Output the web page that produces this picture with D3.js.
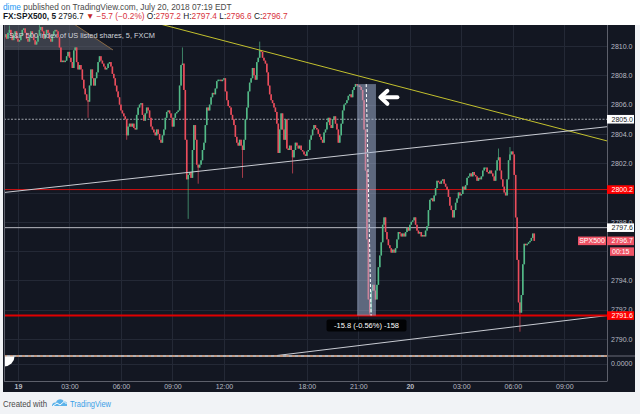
<!DOCTYPE html>
<html><head><meta charset="utf-8">
<script src="https://cdn.jsdelivr.net/npm/d3@7"></script>
<style>body{margin:0;background:#fff;overflow:hidden}text{font-family:"Liberation Sans",Arial,sans-serif}</style>
</head><body><svg id="c" width="640" height="414"></svg>
<script>
// ---------- DATA ----------
const firstIndex = -9;
const firstOpen = 2810.6;
const closes = [
2810.8,2810.5,2810.9,2811.1,2810.7,2810.4,2810.8,2811.0,2810.5,2810.3,
2810.4,2810.7,2811.1,2811.2,2810.9,2810.5,2810.3,2810.6,2811.0,2810.8,
2810.4,2810.1,2810.3,2810.7,2811.1,2811.3,2811.0,2810.5,2810.8,2811.1,
2810.9,2810.5,2810.3,2810.7,2811.0,2811.1,2811.0,2810.6,2809.9,2808.9,
2809.0,2808.9,2809.0,2809.3,2809.6,2809.2,2808.9,2808.5,2809.7,2809.9,
2808.9,2808.4,2808.7,2808.4,2807.7,2807.1,2806.7,2806.3,2806.2,2807.3,
2808.4,2807.8,2807.3,2807.8,2808.2,2808.9,2809.3,2809.0,2808.8,2808.6,
2808.4,2808.5,2808.8,2808.9,2808.6,2808.1,2807.8,2807.3,2806.9,2806.5,
2806.0,2805.6,2805.4,2805.2,2805.0,2803.9,2804.5,2804.7,2804.5,2804.7,
2804.4,2804.3,2805.3,2805.8,2806.0,2806.1,2805.3,2804.9,2805.4,2805.8,
2805.6,2805.1,2804.5,2804.3,2804.1,2803.9,2804.3,2804.0,2803.6,2803.4,
2803.9,2804.3,2805.1,2805.5,2805.6,2805.4,2805.1,2804.5,2805.1,2805.4,
2805.5,2805.6,2807.3,2808.7,2808.8,2807.0,2803.6,2800.9,2801.2,2801.4,
2801.0,2802.9,2804.6,2803.6,2801.9,2801.7,2801.9,2802.2,2802.9,2803.4,
2804.6,2805.8,2805.6,2806.0,2806.5,2806.8,2806.7,2807.1,2807.6,2807.7,
2807.7,2807.6,2807.7,2807.8,2806.9,2806.3,2805.9,2805.8,2805.3,2805.0,
2804.6,2803.8,2803.4,2803.2,2803.6,2803.2,2802.9,2803.6,2805.0,2805.8,
2806.9,2807.5,2807.8,2808.5,2808.0,2807.7,2808.9,2809.2,2809.7,2809.6,
2809.2,2809.0,2808.8,2808.2,2807.3,2806.7,2806.3,2806.1,2805.8,2805.5,
2804.7,2802.7,2804.3,2805.4,2804.3,2803.6,2805.0,2803.0,2802.9,2803.2,
2802.9,2802.4,2802.9,2803.4,2803.2,2803.0,2803.2,2802.9,2802.8,2802.6,
2802.5,2802.8,2802.9,2803.6,2803.9,2804.3,2804.6,2804.4,2804.3,2804.0,
2803.8,2803.6,2803.4,2804.1,2804.3,2804.8,2805.1,2804.6,2804.4,2805.0,
2805.2,2804.7,2804.3,2803.4,2803.9,2804.7,2805.6,2806.0,2806.1,2806.3,
2806.6,2806.7,2806.5,2807.0,2807.2,2807.4,2807.3,2807.3,2807.2,2807.0,
2806.3,2804.3,2801.5,2796.8,2792.7,2791.8,2793.3,2793.7,2793.3,2792.7,
2793.7,2794.9,2795.7,2796.6,2797.8,2798.3,2797.3,2796.8,2796.4,2796.2,
2795.9,2796.1,2795.9,2796.2,2796.8,2797.3,2797.2,2797.0,2797.2,2797.0,
2797.3,2797.6,2797.4,2797.8,2798.0,2798.1,2798.3,2797.8,2797.4,2797.2,
2797.3,2797.0,2797.1,2797.0,2797.4,2797.7,2798.8,2799.5,2799.6,2799.4,
2799.8,2800.3,2800.8,2800.7,2800.6,2800.8,2800.9,2800.6,2800.4,2800.2,
2799.7,2799.1,2798.8,2798.3,2798.8,2799.3,2799.6,2800.0,2799.8,2799.9,
2800.4,2800.2,2800.5,2801.0,2801.1,2801.3,2801.1,2801.4,2801.2,2801.1,
2800.8,2801.0,2800.9,2801.1,2801.5,2801.7,2801.7,2801.4,2801.3,2801.5,
2801.3,2801.1,2800.8,2801.5,2802.2,2802.4,2801.5,2800.9,2800.4,2800.0,
2799.8,2800.9,2802.2,2802.6,2802.8,2802.6,2801.2,2798.3,2795.4,2792.5,
2791.8,2793.0,2795.1,2796.5,2796.4,2796.5,2796.6,2796.7,2796.9,2797.2,2796.7
];
// [bar index, wick high, wick low]
const wicks = [
[-6,2811.4,null],[15,2811.5,null],[49,null,2805.1],[76,null,2803.6],[115,2809.9,null],
[119,null,2798.2],[126,null,2800.6],[157,null,2801.0],[169,2810.3,null],[192,null,2801.3],
[246,null,2791.6],[336,2803.0,null],[344,2803.1,null],[351,null,2790.5]
];
const timeTicks  = [0,36,72,108,144,202,238,274,310,346,382];
const timeLabels = ["19","03:00","06:00","09:00","12:00","18:00","21:00","20","03:00","06:00","09:00"];
const dayLabels  = ["19","20"];
const priceTicks = [2790,2792,2794,2796,2798,2800,2802,2804,2806,2808,2810];
const dottedLevel = 2805.0;
const greyLevel   = 2797.6;
const redLevels   = [2800.2, 2791.6];
const lastPrice   = 2796.7;
const countdown   = "00:15";
const ohlc        = [2797.2, 2797.4, 2796.6, 2796.7];
const change      = [-5.7, -0.2];
const lowerPaneValue = 0;
// trend lines: [[bar index, price],[bar index, price]]
const trendYellow = [[115.4,2811.09],[411.9,2803.52]];
const trendUpper  = [[-9.8,2800.0],[411.9,2804.49]];
const trendLower  = [[323,2790.55],[411.9,2791.6]];
// price range tool
const rangeBars   = [237.1, 250.3];
const rangePrices = [2807.4, 2791.6];
const rangeLine   = [243.5, 246.9];
const arrowAt     = [252, 2806.5];
const shadeBand   = [[-9.8,2811.45],[39.9,2811.45],[66.4,2809.73],[-9.8,2809.73]];

// ---------- LAYOUT ----------
const svg = d3.select("#c");
const L=4, R=607, T=25, PB=355.5, LB=381.5;
svg.append("rect").attr("width",640).attr("height",414).attr("fill","#f1f3f6");
svg.append("rect").attr("width",640).attr("height",25).attr("fill","#ffffff");
svg.append("rect").attr("x",3).attr("y",25).attr("width",632).attr("height",367).attr("fill","#131722");

const x = d3.scaleLinear().domain([0,382]).range([18,564.3]);
const y = d3.scaleLinear().domain([2790,2810]).range([339,46]);
const y2 = d3.scaleLinear().domain([0,1]).range([363.5,340]);

svg.append("clipPath").attr("id","pane").append("rect")
  .attr("x",L).attr("y",T).attr("width",R-L).attr("height",PB-T);

// grid
const grid = svg.append("g").attr("stroke","#242936").attr("stroke-width",1);
grid.selectAll("line.h").data(priceTicks).join("line")
  .attr("x1",L).attr("x2",R).attr("y1",d=>Math.round(y(d))+0.5).attr("y2",d=>Math.round(y(d))+0.5);
grid.selectAll("line.v").data(timeTicks).join("line")
  .attr("x1",d=>Math.round(x(d))+0.5).attr("x2",d=>Math.round(x(d))+0.5).attr("y1",T).attr("y2",LB);
grid.append("line").attr("x1",L).attr("x2",R).attr("y1",Math.round(y2(lowerPaneValue))+0.5).attr("y2",Math.round(y2(lowerPaneValue))+0.5);

const pane = svg.append("g").attr("clip-path","url(#pane)");

// shaded band near legend
pane.append("path")
  .attr("d", d3.line().x(d=>x(d[0])).y(d=>y(d[1]))(shadeBand)+"Z")
  .attr("fill","#5d606b").attr("fill-opacity",0.55);
pane.append("line")
  .attr("x1",x(shadeBand[1][0])).attr("y1",y(shadeBand[1][1]))
  .attr("x2",x(shadeBand[2][0])).attr("y2",y(shadeBand[2][1]))
  .attr("stroke","#8a6a45").attr("stroke-width",1);

// horizontal levels
pane.append("line").attr("x1",L).attr("x2",R).attr("y1",y(dottedLevel)).attr("y2",y(dottedLevel))
  .attr("stroke","#9ea2ab").attr("stroke-width",1).attr("stroke-dasharray","2,1.5");
pane.append("line").attr("x1",L).attr("x2",R).attr("y1",y(greyLevel)).attr("y2",y(greyLevel))
  .attr("stroke","#b8bbc2").attr("stroke-width",1);
pane.append("line").attr("x1",L).attr("x2",R).attr("y1",y(redLevels[0])).attr("y2",y(redLevels[0]))
  .attr("stroke","#d01010").attr("stroke-width",1);

// trend lines (extended, clipped)
function ext(p){const s=(p[1][1]-p[0][1])/(p[1][0]-p[0][0]);
  return [[-15,p[0][1]+s*(-15-p[0][0])],[420,p[0][1]+s*(420-p[0][0])]];}
function tl(p,col,w){const e=ext(p);pane.append("line").attr("x1",x(e[0][0])).attr("y1",y(e[0][1]))
  .attr("x2",x(e[1][0])).attr("y2",y(e[1][1])).attr("stroke",col).attr("stroke-width",w);}

// candles
const bars = closes.map((c,k)=>{
  const i = firstIndex+k; const o = k===0?firstOpen:closes[k-1];
  let hi=Math.max(o,c), lo=Math.min(o,c);
  const w = wicks.find(v=>v[0]===i);
  if(w){ if(w[1]!=null) hi=Math.max(hi,w[1]); if(w[2]!=null) lo=Math.min(lo,w[2]); }
  return {i,o,c,hi,lo};
});
const up="#53b987", dn="#eb4d5c";
const cg = pane.append("g");
cg.selectAll("line").data(bars).join("line")
  .attr("x1",d=>x(d.i)).attr("x2",d=>x(d.i)).attr("y1",d=>y(d.hi)).attr("y2",d=>y(d.lo))
  .attr("stroke",d=>d.c>=d.o?up:dn).attr("stroke-width",0.9).attr("stroke-opacity",0.75);
cg.selectAll("rect").data(bars).join("rect")
  .attr("x",d=>x(d.i)-0.8).attr("width",1.6)
  .attr("y",d=>y(Math.max(d.o,d.c)))
  .attr("height",d=>Math.max(1,Math.abs(y(d.o)-y(d.c))))
  .attr("fill",d=>d.c>=d.o?up:dn);

tl(trendYellow,"#c3c12e",1);
tl(trendUpper,"#c9ccd3",1);
tl(trendLower,"#c9ccd3",1);
pane.append("line").attr("x1",L).attr("x2",R).attr("y1",y(redLevels[1])).attr("y2",y(redLevels[1]))
  .attr("stroke","#e00000").attr("stroke-width",2);

// price range tool
pane.append("rect").attr("x",x(rangeBars[0])).attr("width",x(rangeBars[1])-x(rangeBars[0]))
  .attr("y",y(rangePrices[0])).attr("height",y(rangePrices[1])-y(rangePrices[0]))
  .attr("fill","#a9bad9").attr("fill-opacity",0.5);
pane.append("line").attr("x1",x(rangeLine[0])).attr("y1",y(rangePrices[0]))
  .attr("x2",x(rangeLine[1])).attr("y2",y(rangePrices[1]))
  .attr("stroke","#ffffff").attr("stroke-width",1).attr("stroke-dasharray","3,2");
const diff = rangePrices[1]-rangePrices[0];
const fmt = f=>v=>d3.format(f)(v).replace("\u2212","-");
const rtxt = fmt(".1f")(diff)+" ("+fmt(".2f")(diff/rangePrices[0]*100)+"%) "+fmt("d")(Math.round(diff*10));
const rcx = (x(rangeBars[0])+x(rangeBars[1]))/2;
svg.append("rect").attr("x",rcx-40).attr("y",y(rangePrices[1])+4).attr("width",80).attr("height",12)
  .attr("rx",2).attr("fill","#000000").attr("fill-opacity",0.85);
svg.append("text").attr("x",rcx).attr("y",y(rangePrices[1])+12.5).attr("text-anchor","middle")
  .attr("font-size",7.5).attr("fill","#ffffff").text(rtxt);

// arrow
const ax = x(arrowAt[0]), ay = y(arrowAt[1]);
svg.append("path").attr("d",`M${ax+9},${ay-6.5} L${ax+2},${ay} L${ax+9},${ay+6.5}`)
  .attr("fill","none").attr("stroke","#fff").attr("stroke-width",4).attr("stroke-linecap","round").attr("stroke-linejoin","round");
svg.append("line").attr("x1",ax+3).attr("x2",ax+19).attr("y1",ay).attr("y2",ay)
  .attr("stroke","#fff").attr("stroke-width",4).attr("stroke-linecap","round");

// pane separators / borders
svg.append("line").attr("x1",L).attr("x2",635).attr("y1",356).attr("y2",356).attr("stroke","#6a6d78");
svg.append("line").attr("x1",L).attr("x2",R).attr("y1",356).attr("y2",356).attr("stroke","#d0d3d9").attr("stroke-width",1.5);
svg.append("line").attr("x1",L).attr("x2",R).attr("y1",356).attr("y2",356).attr("stroke","#d9824a").attr("stroke-width",1.2).attr("stroke-dasharray","3,3");
svg.append("path").attr("d","M4,356.5 L14.5,356.5 A10.5,10 0 0 1 4,366.5 Z").attr("fill","#ffffff");
svg.append("line").attr("x1",4.5).attr("x2",4.5).attr("y1",T).attr("y2",LB).attr("stroke","#5d606b");
svg.append("line").attr("x1",R+0.5).attr("x2",R+0.5).attr("y1",T).attr("y2",LB).attr("stroke","#5d606b");
svg.append("line").attr("x1",L).attr("x2",R).attr("y1",LB).attr("y2",LB).attr("stroke","#5d606b");

// axes (labels fully hidden behind price tags are not drawn)
const tagPrices = [dottedLevel, greyLevel, lastPrice, ...redLevels];
const hiddenUnder = p => tagPrices.some(t=>Math.abs(y(t)-y(p))<4) || (y(p)-y(lastPrice)>8 && y(p)-y(lastPrice)<14);
const tickCol="#b8bbc3";
const ya = svg.append("g").attr("transform",`translate(${R},0)`)
  .call(d3.axisRight(y).tickValues(priceTicks.filter(p=>!hiddenUnder(p))).tickFormat(d3.format(".1f")).tickSize(0).tickPadding(4));
ya.select(".domain").remove();
ya.selectAll("text").attr("fill",tickCol).attr("font-size",7).attr("font-family","Liberation Sans, Arial, sans-serif");
svg.append("text").attr("x",R+4).attr("y",y2(lowerPaneValue)+2.5).attr("font-size",7).attr("fill",tickCol).text(d3.format(".4f")(lowerPaneValue));
const xa = svg.append("g").attr("transform",`translate(0,${LB})`)
  .call(d3.axisBottom(x).tickValues(timeTicks).tickFormat((d,k)=>timeLabels[k]).tickSize(0).tickPadding(3));
xa.select(".domain").remove();
xa.selectAll("text").attr("fill",tickCol).attr("font-size",7).attr("font-family","Liberation Sans, Arial, sans-serif")
  .attr("font-weight",(d,k)=>dayLabels.includes(timeLabels[k])?"bold":"normal");

// price tags
function tag(p,bg,fg,t){
  svg.append("rect").attr("x",R).attr("y",y(p)-4.3).attr("width",27).attr("height",8.6).attr("fill",bg);
  svg.append("text").attr("x",R+4.5).attr("y",y(p)+2.5).attr("font-size",7).attr("fill",fg).text(t);
}
const f1=d3.format(".1f");
tag(dottedLevel,"#ffffff","#131722",f1(dottedLevel));
tag(redLevels[0],"#ff0000","#ffffff",f1(redLevels[0]));
tag(greyLevel,"#ffffff","#131722",f1(greyLevel));
tag(redLevels[1],"#ff0000","#ffffff",f1(redLevels[1]));
svg.append("rect").attr("x",578).attr("y",y(lastPrice)-4.3).attr("width",28).attr("height",8.6).attr("fill","#ef5466");
svg.append("text").attr("x",592).attr("y",y(lastPrice)+2.5).attr("text-anchor","middle").attr("font-size",7).attr("fill","#fff").text("SPX500");
tag(lastPrice,"#ef5466","#ffffff",f1(lastPrice));
svg.append("rect").attr("x",R+3).attr("y",y(lastPrice)+6.5).attr("width",24).attr("height",8.5).attr("fill","#ef5466");
svg.append("text").attr("x",R+5).attr("y",y(lastPrice)+13.3).attr("font-size",7).attr("fill","#fff").text(countdown);

// legend
svg.append("text").attr("x",9).attr("y",38).attr("font-size",8).attr("fill","#d1d4dc")
  .attr("textLength",146).attr("lengthAdjust","spacingAndGlyphs").text("S&P 500 index of US listed shares, 5, FXCM");

// header
const h1 = svg.append("text").attr("x",3).attr("y",9.5).attr("font-size",8.3);
h1.append("tspan").attr("fill","#2196f3").text("dime");
h1.append("tspan").attr("fill","#4a4a4a").text(" published on TradingView.com, July 20, 2018 07:19 EDT");
const red="#d8323c", dark="#131722";
const h2 = svg.append("text").attr("x",3).attr("y",19).attr("font-size",8.3);
h2.append("tspan").attr("fill",dark).attr("font-weight","bold").text("FX:SPX500, 5");
h2.append("tspan").attr("fill",dark).text("  "+f1(ohlc[3])+" ");
h2.append("tspan").attr("fill","#c62828").text("▼");
h2.append("tspan").attr("fill",red).text(" "+f1(change[0])+" ("+f1(change[1])+"%) ");
["O:","H:","L:","C:"].forEach((k,j)=>{
  h2.append("tspan").attr("fill",dark).text((j?" ":"")+k);
  h2.append("tspan").attr("fill",red).text(f1(ohlc[j]));
});

// footer
svg.append("text").attr("x",3).attr("y",406.5).attr("font-size",8.5).attr("fill","#4a4a4a")
  .attr("textLength",44).attr("lengthAdjust","spacingAndGlyphs").text("Created with");
const lg = svg.append("g").attr("transform","translate(52,398)");
lg.append("path").attr("d","M0,8 C0,5 2,4 4,4.5 C5,1 10,0 12,3.5 C14,3 15.5,5 15,7 L15,8 Z").attr("fill","#5db3ea");
lg.append("path").attr("d","M1,8 L5,5 L8,7 L12,3.5 L14.5,6").attr("fill","none").attr("stroke","#ffffff").attr("stroke-width",1);
svg.append("text").attr("x",70).attr("y",406.5).attr("font-size",8.5).attr("fill","#3ba0e6")
  .attr("textLength",41).attr("lengthAdjust","spacingAndGlyphs").text("TradingView");
</script></body></html>
